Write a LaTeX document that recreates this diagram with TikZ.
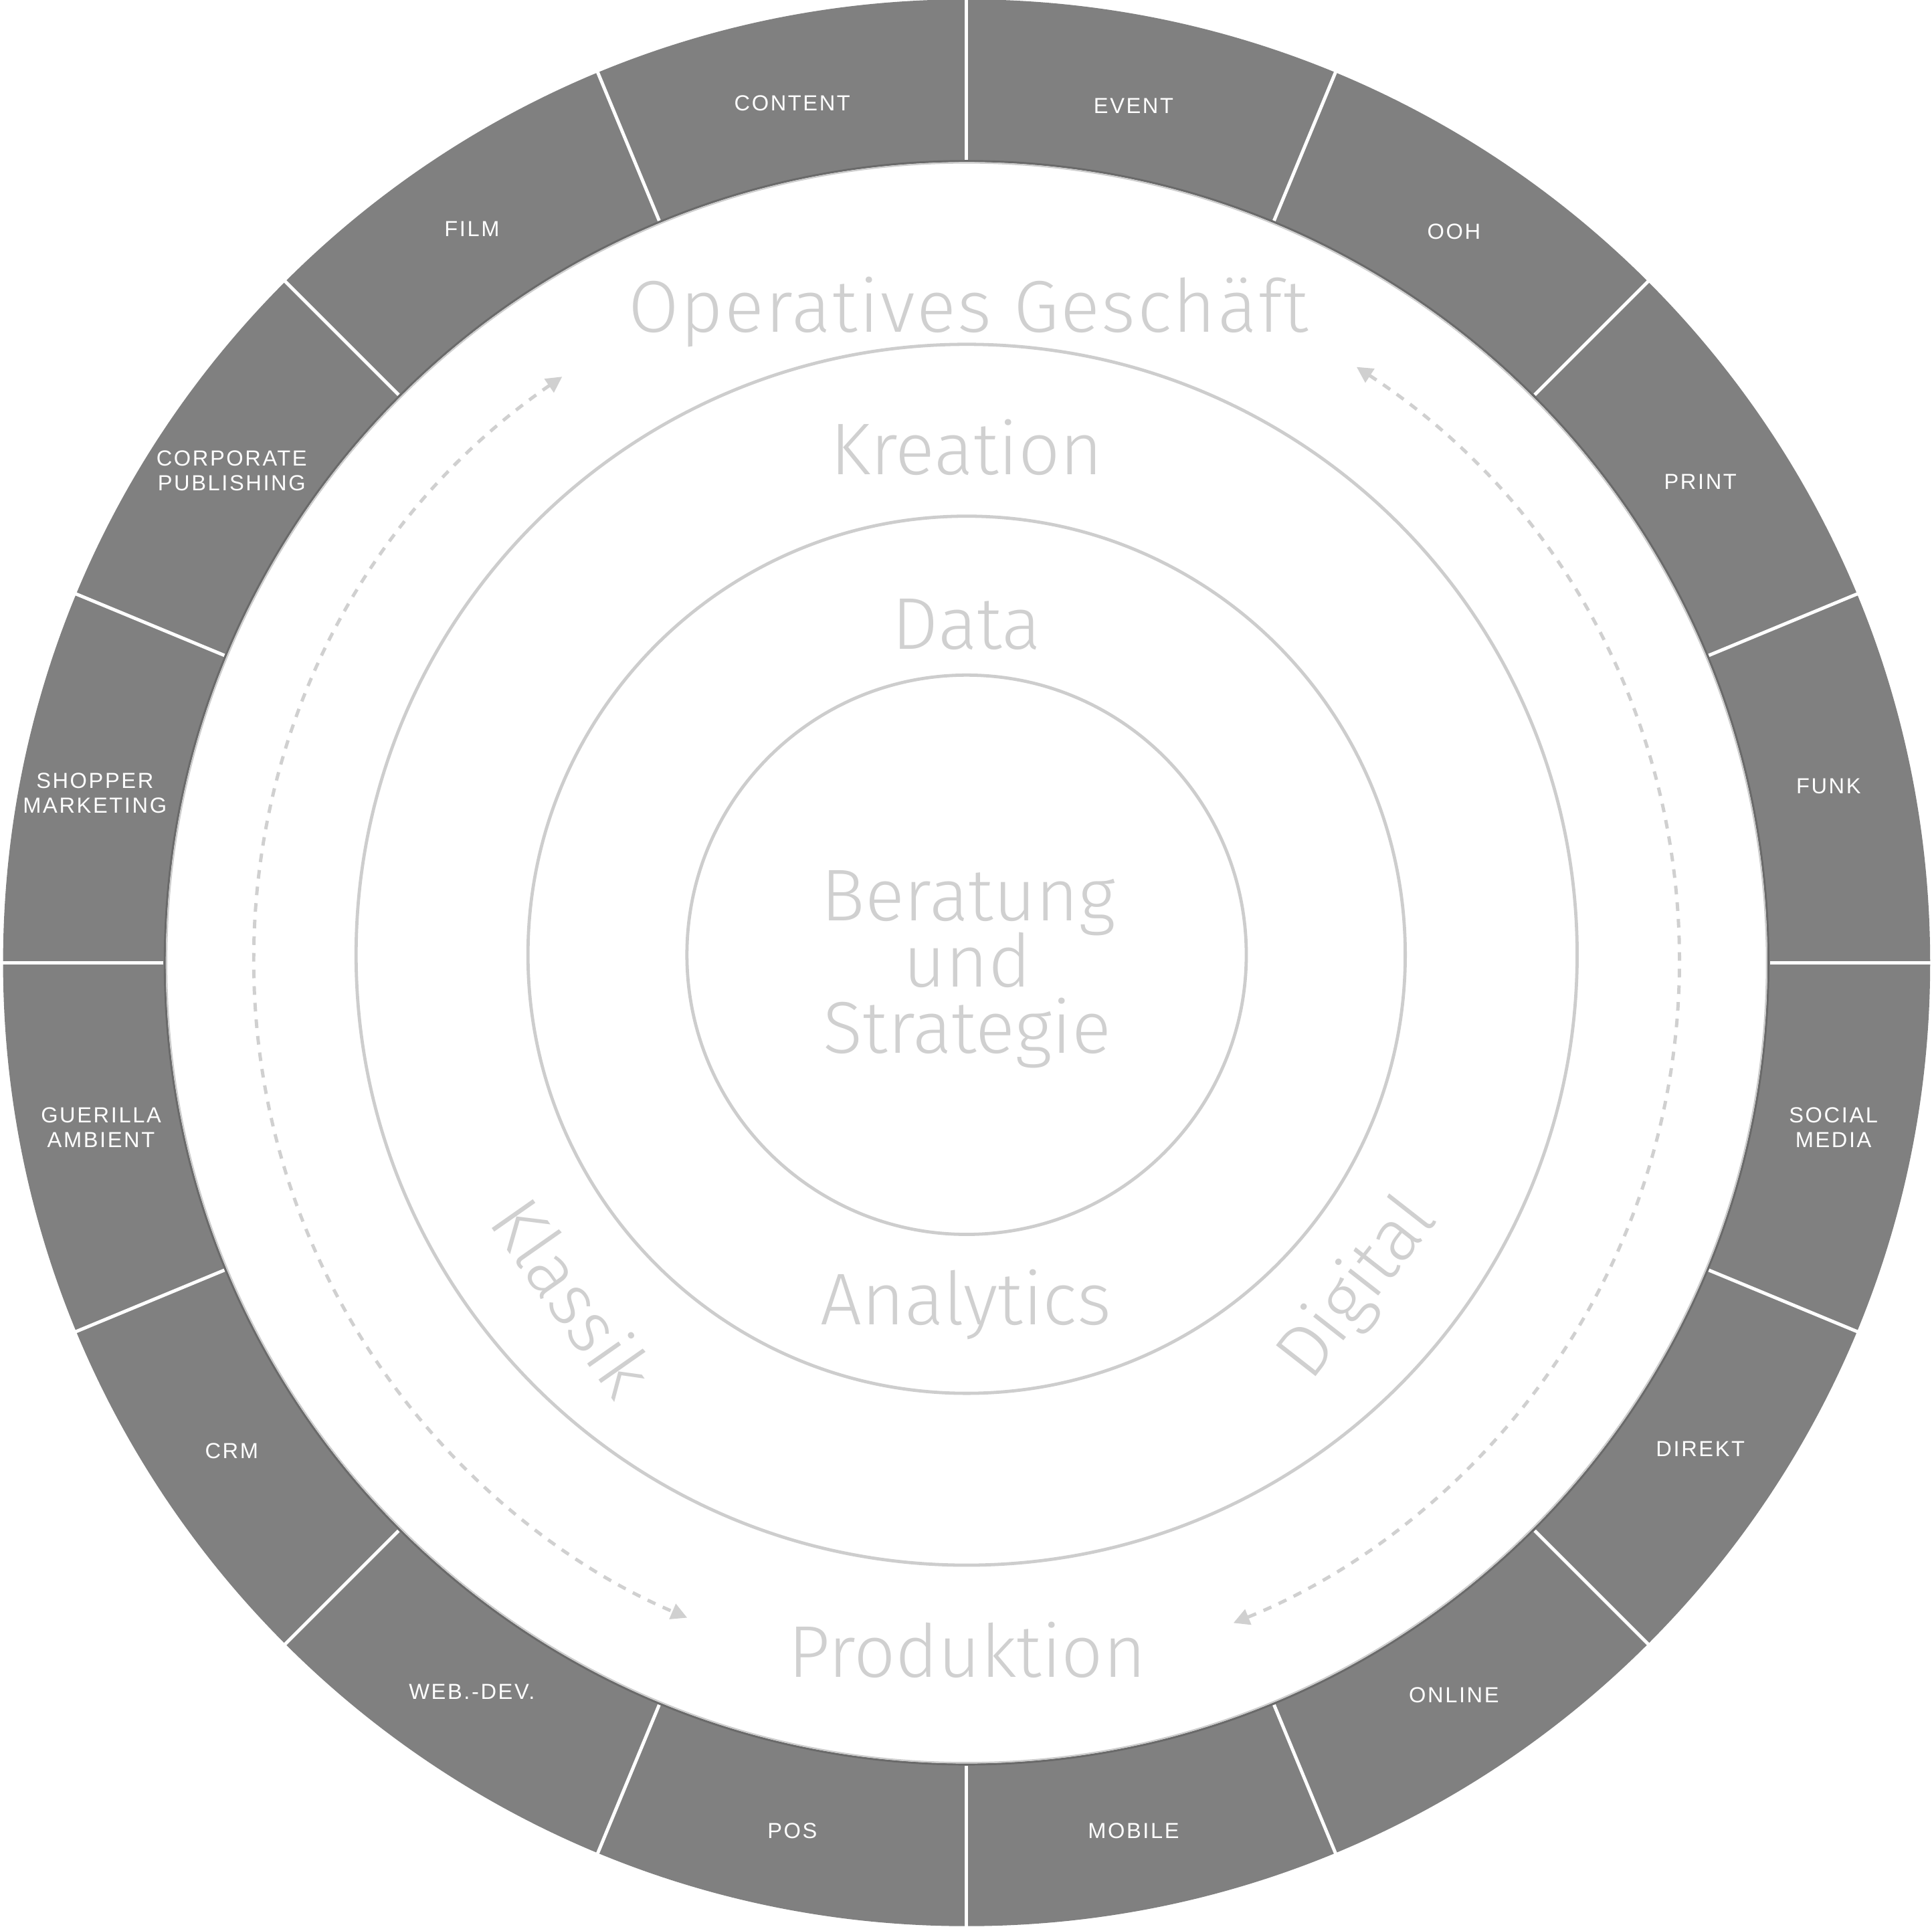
\documentclass[tikz,border=0pt]{standalone}
\usepackage{fontspec}
\setmainfont{Liberation Sans}
\newfontfamily\labelfont{Liberation Sans}[LetterSpace=8]
\newfontfamily\bigfont{Fira Sans Light}
\newfontfamily\bigfontwide{Fira Sans Light}[LetterSpace=2.2]
\usetikzlibrary{arrows.meta}
\definecolor{ringgray}{HTML}{808080}
\definecolor{ringedge}{HTML}{6A6A6A}
\definecolor{softgray}{HTML}{D0D0D0}
\definecolor{circgray}{HTML}{CDCDCD}
\begin{document}
\begin{tikzpicture}[x=1pt,y=1pt,
  seglabel/.style={text=white, font=\labelfont\fontsize{17.7}{20}\selectfont, align=center, inner sep=0pt},
  bigtext/.style={text=softgray, font=\bigfont\fontsize{59.5}{60}\selectfont, inner sep=0pt, anchor=base},
  rottext/.style={text=softgray, font=\bigfont\fontsize{59.5}{60}\selectfont, inner sep=0pt},
  ringcircle/.style={draw=circgray, line width=2.6},
  flow/.style={draw=softgray, line width=2.7, dash pattern=on 7pt off 6.5pt,
    arrows={Triangle[length=13pt,width=13pt]-Triangle[length=13pt,width=13pt]}},
  divider/.style={draw=white, line width=2.7}]
\useasboundingbox (-784.5,-782.5) rectangle (783.5,781.5);
\fill[white] (-784.5,-782.5) rectangle (783.5,781.5);
% outer segmented ring
\fill[ringgray,even odd rule] (0,0) circle[radius=782] (0,0) circle[radius=650];
\foreach \k in {0,...,15} \draw[divider] (90-22.5*\k:652) -- (90-22.5*\k:784);
\draw[ringedge, line width=1.6] (0,0) circle[radius=650.8];
\draw[circgray, line width=1.2] (0,0) circle[radius=649.3];
% segment labels
\node[seglabel] (content)  at (-141.5,697.5)  {CONTENT};
\node[seglabel] (event)    at (135.5,695.5)   {EVENT};
\node[seglabel] (ooh)      at (395.5,593.5)   {OOH};
\node[seglabel] (print)    at (595.5,390.5)   {PRINT};
\node[seglabel] (funk)     at (699.5,143.5)   {FUNK};
\node[seglabel] (social)   at (703.5,-133.5)  {SOCIAL\\MEDIA};
\node[seglabel] (direkt)   at (595.5,-394.5)  {DIREKT};
\node[seglabel] (online)   at (395.5,-594.5)  {ONLINE};
\node[seglabel] (mobile)   at (135.5,-704.5)  {MOBILE};
\node[seglabel] (pos)      at (-141.5,-704.5) {POS};
\node[seglabel] (webdev)   at (-401.5,-591.5) {WEB.-DEV.};
\node[seglabel] (crm)      at (-596.5,-396.5) {CRM};
\node[seglabel] (guerilla) at (-702.5,-133.5) {GUERILLA\\AMBIENT};
\node[seglabel] (shopper)  at (-707.5,137.5)  {SHOPPER\\MARKETING};
\node[seglabel] (corp)     at (-596.5,399.5)  {CORPORATE\\PUBLISHING};
\node[seglabel] (film)     at (-401.5,595.5)  {FILM};
% inner circles
\coordinate (cc) at (0,6.5);
\draw[ringcircle] (cc) circle[radius=495.5];
\draw[ringcircle] (cc) circle[radius=356];
\draw[ringcircle] (cc) circle[radius=227];
% texts
\node[bigtext, font=\bigfontwide\fontsize{59.5}{60}\selectfont] (operativ) at (1.5,512.2) {Operatives Geschäft};
\node[bigtext] (kreation) at (0,396.5) {Kreation};
\node[bigtext] (data) at (0,254.5) {Data};
\node[bigtext] (ber1) at (1.5,34) {Beratung};
\node[bigtext] (ber2) at (0.5,-19.8) {und};
\node[bigtext] (ber3) at (0.5,-73.5) {Strategie};
\node[bigtext] (analytics) at (-0.5,-293.8) {Analytics};
\node[bigtext] (produktion) at (0.5,-580.1) {Produktion};
\node[rottext, rotate=-55] (klassik) at (-319,-271) {Klassik};
\node[rottext, rotate=52] (digital) at (318,-265) {Digital};
% dashed flow arrows
\coordinate (lt) at (124.6:578);
\coordinate (rt) at (56.8:578);
\draw[flow] (lt) arc[start angle=124.6, end angle=246.9, radius=578];
\draw[flow] (rt) arc[start angle=56.8, end angle=-68, radius=578];
\end{tikzpicture}
\end{document}
